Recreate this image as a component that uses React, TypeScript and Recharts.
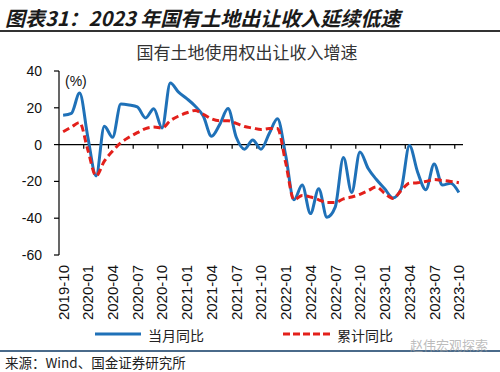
import React from 'react';
import { LineChart, Line, XAxis, YAxis, ReferenceLine } from 'recharts';

const months = [
  '2019-10', '2019-11', '2019-12',
  '2020-01', '2020-02', '2020-03', '2020-04', '2020-05', '2020-06',
  '2020-07', '2020-08', '2020-09', '2020-10', '2020-11', '2020-12',
  '2021-01', '2021-02', '2021-03', '2021-04', '2021-05', '2021-06',
  '2021-07', '2021-08', '2021-09', '2021-10', '2021-11', '2021-12',
  '2022-01', '2022-02', '2022-03', '2022-04', '2022-05', '2022-06',
  '2022-07', '2022-08', '2022-09', '2022-10', '2022-11', '2022-12',
  '2023-01', '2023-02', '2023-03', '2023-04', '2023-05', '2023-06',
  '2023-07', '2023-08', '2023-09', '2023-10',
];

// 当月同比 (%)
const monthlyYoY = [
  16, 17, 28,
  4, -17, 10, 4, 22, 21.5,
  20.5, 14.5, 19.5, 9, 33.5, 28.5,
  25, 21, 15.5, 4.5, 11, 19.6,
  4, -2.5, 2.5, -2.5, 6, 14,
  -6, -30, -22, -37.5, -24, -39.5,
  -34, -7, -26, -4, -13, -19,
  -24, -29, -24, -0.5, -15, -24.5,
  -10.5, -22, -21, -26,
];

// 累计同比 (%)
const cumulativeYoY = [
  7, 9.5, 12,
  -3, -17, -9, -3.5, 1, 4,
  6.5, 8.7, 9.5, 9, 13, 15.5,
  17.3, 18.5, 16.5, 14, 13, 13,
  11.5, 9.8, 9, 8.2, 8.7, 8.7,
  -10, -30, -27.7, -28.5, -30, -31.5,
  -31.5, -29.5, -28.5, -27, -25, -23,
  -26.5, -29.3, -25, -21, -20.7, -20,
  -19, -19.5, -20, -20.7,
];

const yTicks = [-60, -40, -20, 0, 20, 40];
const labelTicks = [0, 3, 6, 9, 12, 15, 18, 21, 24, 27, 30, 33, 36, 39, 42, 45, 48];
const tickMarks = [2.5, 5.5, 8.5, 11.5, 14.5, 17.5, 20.5, 23.5, 26.5, 29.5, 32.5, 35.5, 38.5, 41.5, 44.5, 47.5];

const data = months.map((m, i) => ({
  idx: i,
  month: m,
  monthly: monthlyYoY[i],
  cumulative: cumulativeYoY[i],
}));

const BLUE = '#1F71B8';
const RED = '#E3201B';
const LATIN = '"Liberation Sans", Arial, sans-serif';
const CJK = '"Noto Sans CJK SC", "Noto Sans", sans-serif';

const XTick = (props: any) => {
  const { x, y, payload } = props;
  return (
    <g transform={`translate(${x},${y})`}>
      <text
        transform="rotate(-90)"
        textAnchor="end"
        dy="0.36em"
        fontSize={15}
        fontFamily={LATIN}
        fill="#111"
      >
        {months[payload.value]}
      </text>
    </g>
  );
};

export default function App() {
  return (
    <div
      style={{
        position: 'absolute',
        left: 0,
        top: 0,
        width: 500,
        height: 372,
        background: '#fff',
        overflow: 'hidden',
      }}
    >
      <div
        style={{
          position: 'absolute',
          left: 5,
          top: 5,
          fontFamily: CJK,
          fontSize: 20,
          fontWeight: 700,
          fontStyle: 'italic',
          color: '#1a1a1a',
          lineHeight: '26px',
          whiteSpace: 'pre',
        }}
      >
        图表31：2023 年国有土地出让收入延续低速
      </div>
      <div
        style={{
          position: 'absolute',
          left: 0,
          top: 30,
          width: 500,
          height: 2,
          background: '#333',
        }}
      />
      <div
        style={{
          position: 'absolute',
          left: 0,
          top: 41,
          width: 494,
          textAlign: 'center',
          fontFamily: CJK,
          fontSize: 17,
          color: '#333',
          lineHeight: '22px',
        }}
      >
        国有土地使用权出让收入增速
      </div>

      <div style={{ position: 'absolute', left: 0, top: 0 }}>
        <LineChart
          width={500}
          height={330}
          data={data}
          margin={{ top: 71, right: 37, bottom: 0, left: 9 }}
        >
          <XAxis
            dataKey="idx"
            type="number"
            domain={[-0.5, 48.5]}
            ticks={labelTicks}
            interval={0}
            axisLine={false}
            tickLine={false}
            tickSize={0}
            tickMargin={10}
            height={75}
            tick={<XTick />}
          />
          <YAxis
            type="number"
            domain={[-60, 40]}
            ticks={yTicks}
            interval={0}
            width={50}
            axisLine={{ stroke: '#000', strokeWidth: 1.2 }}
            tickLine={{ stroke: '#000', strokeWidth: 1.2 }}
            tickSize={5}
            tickMargin={12}
            tick={{ fontSize: 14, fontFamily: LATIN, fill: '#111' }}
          />
          <ReferenceLine y={0} stroke="#000" strokeWidth={1.3} />
          {tickMarks.map((t) => (
            <ReferenceLine
              key={t}
              segment={[{ x: t, y: 0 }, { x: t, y: -2.2 }]}
              stroke="#000"
              strokeWidth={1.2}
            />
          ))}
          <Line
            type="monotone"
            dataKey="monthly"
            stroke={BLUE}
            strokeWidth={3}
            dot={false}
            isAnimationActive={false}
          />
          <Line
            type="monotone"
            dataKey="cumulative"
            stroke={RED}
            strokeWidth={3}
            strokeDasharray="7 4"
            dot={false}
            isAnimationActive={false}
          />
        </LineChart>
      </div>

      <div
        style={{
          position: 'absolute',
          left: 65,
          top: 72,
          fontFamily: LATIN,
          fontSize: 14,
          color: '#111',
          lineHeight: '18px',
        }}
      >
        (%)
      </div>

      {/* Legend */}
      <svg style={{ position: 'absolute', left: 95, top: 331 }} width={46} height={6}>
        <line x1={0} y1={3} x2={46} y2={3} stroke={BLUE} strokeWidth={3} />
      </svg>
      <div
        style={{
          position: 'absolute',
          left: 148,
          top: 325,
          fontFamily: CJK,
          fontSize: 14,
          color: '#222',
          lineHeight: '20px',
        }}
      >
        当月同比
      </div>
      <svg style={{ position: 'absolute', left: 283, top: 331 }} width={49} height={6}>
        <line x1={0} y1={3} x2={49} y2={3} stroke={RED} strokeWidth={3} strokeDasharray="7 3" />
      </svg>
      <div
        style={{
          position: 'absolute',
          left: 337,
          top: 325,
          fontFamily: CJK,
          fontSize: 14,
          color: '#222',
          lineHeight: '20px',
        }}
      >
        累计同比
      </div>

      <div
        style={{
          position: 'absolute',
          left: 0,
          top: 350,
          width: 500,
          height: 1.5,
          background: '#4a6a8a',
        }}
      />
      <div
        style={{
          position: 'absolute',
          left: 410,
          top: 336,
          fontFamily: CJK,
          fontSize: 13,
          color: 'rgba(160,160,160,0.7)',
          lineHeight: '18px',
          whiteSpace: 'nowrap',
        }}
      >
        赵伟宏观探索
      </div>
      <div
        style={{
          position: 'absolute',
          left: 5,
          top: 353,
          fontFamily: CJK,
          fontSize: 13.5,
          color: '#222',
          lineHeight: '18px',
          whiteSpace: 'nowrap',
        }}
      >
        来源：Wind、国金证券研究所
      </div>
    </div>
  );
}
